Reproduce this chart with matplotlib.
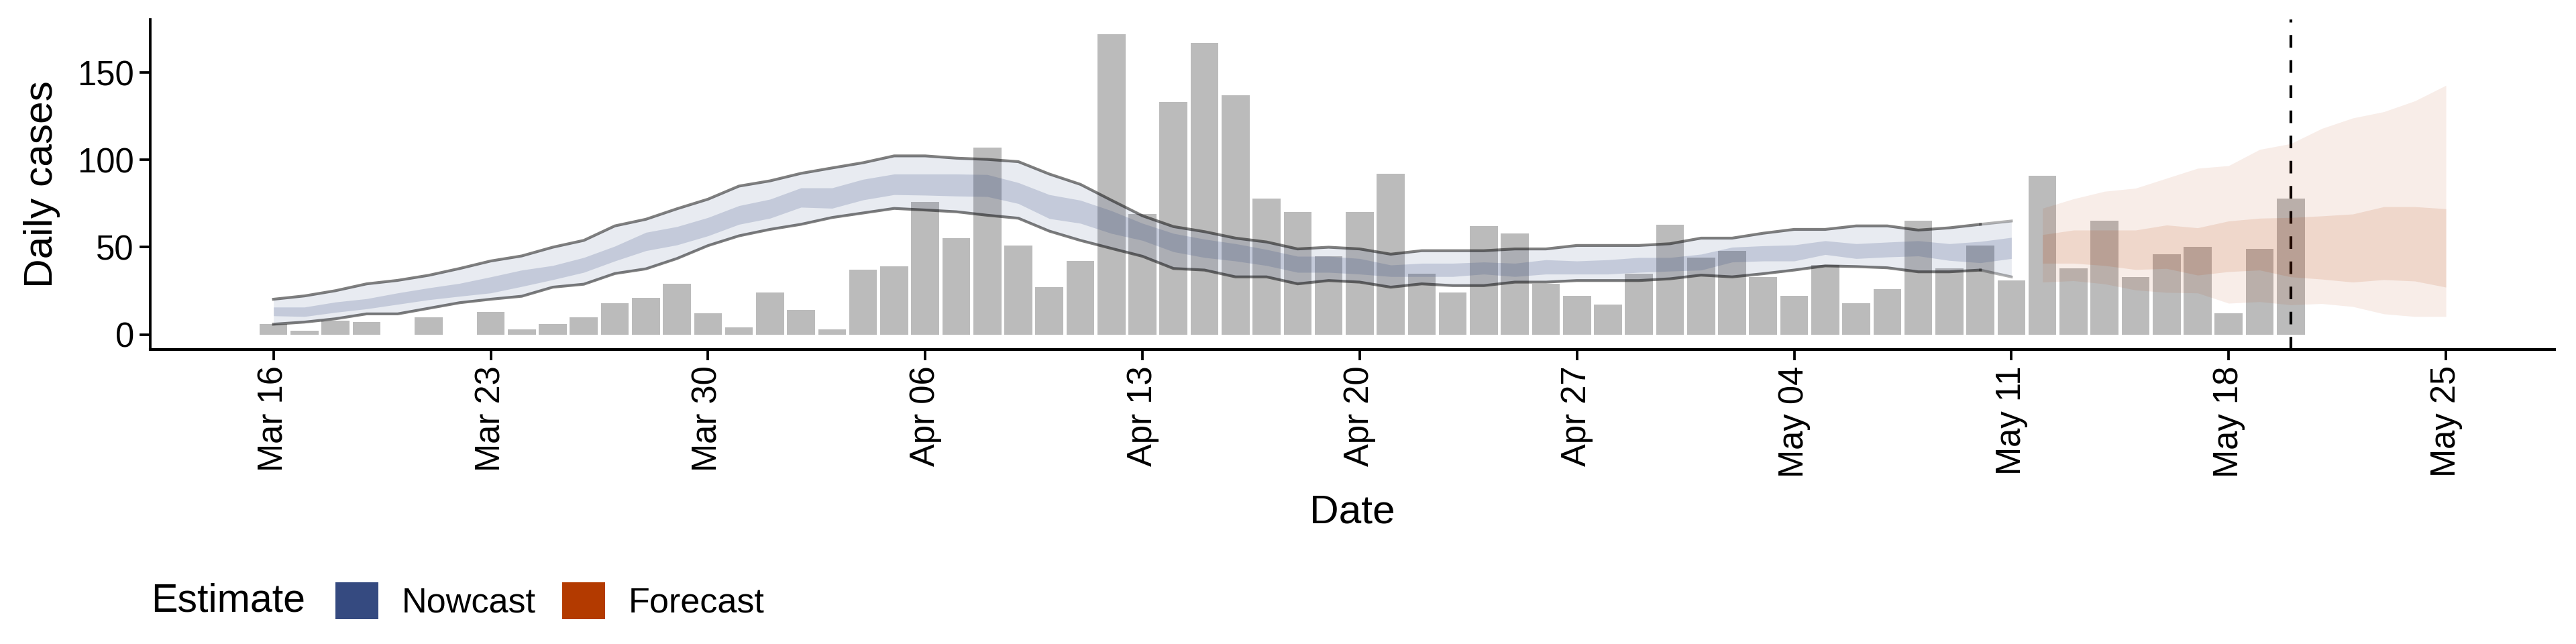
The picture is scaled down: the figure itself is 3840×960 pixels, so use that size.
import numpy as np
import pandas as pd
import matplotlib
matplotlib.use("Agg")
import matplotlib.pyplot as plt
import matplotlib.dates as mdates
from matplotlib.patches import Patch

plt.rcParams['font.family'] = ['Liberation Sans', 'DejaVu Sans']

# ---------------- data ----------------
report_start = "2020-03-16"
daily_cases = [
    6, 2, 8, 7, 0, 10, 0, 13, 3, 6, 10, 18, 21, 29, 12, 4,            # Mar 16-31
    24, 14, 3, 37, 39, 76, 55, 107, 51, 27, 42, 172, 69, 133, 167,    # Apr 1-15
    137, 78, 70, 45, 70, 92, 35, 24, 62, 58, 29, 22, 17, 35, 63,      # Apr 16-30
    44, 48, 33, 22, 40, 18, 26, 65, 38, 51, 31, 91, 38, 65, 33,       # May 1-15
    46, 50, 12, 49, 78,                                               # May 16-20
]

nowcast_start = "2020-03-16"
nowcast_upper90 = [
    20.2, 22.1, 25.1, 29, 31, 33.9, 37.8, 42.1, 45, 50, 53.9, 62.2, 66, 72, 77.5, 85,
    88, 92.3, 95.4, 98.4, 102.3, 102.3, 101, 100.3, 99, 91.9, 86, 76.9, 68, 61.8, 58.9,
    55.2, 53, 49, 50, 49, 46, 48, 48, 48, 49, 49, 51, 51, 51, 52,
    55.2, 55.2, 58, 60.2, 60.2, 62.2, 62.2, 59.8, 61.1, 63.1, 65,
]
nowcast_lower90 = [
    5.9, 7.1, 9, 11.8, 11.8, 15, 18.2, 20.2, 21.9, 27.1, 28.8, 34.9, 37.6, 43.5, 50.9, 56.5,
    60.2, 63.1, 67, 69.6, 72.2, 71.3, 70.3, 68.3, 66.6, 59.2, 53.9, 49.3, 44.8, 37.8, 36.9,
    33, 33, 29, 30.9, 30, 27.1, 29, 28, 28, 30, 30, 30.9, 30.9, 30.9, 31.9,
    34, 33, 34.8, 36.9, 39.3, 38.9, 38.2, 35.9, 35.9, 36.9, 33,
]
nowcast_upper50 = [
    15.7, 15.7, 18.6, 20.5, 23.8, 26.7, 29.3, 33, 36.9, 39.5, 44.1, 50.6, 58.5, 61.8, 67, 73.8,
    77.5, 84, 84, 88.9, 91.9, 91.9, 91.9, 91.6, 87, 80.1, 76.9, 70.9, 63.7, 57.9, 54.6,
    52, 48.7, 44.8, 44.8, 43.5, 39.8, 40.8, 40.8, 41.5, 40.8, 42.8, 42.1, 42.8, 44.1, 44.1,
    46, 50, 50.8, 51.3, 53.7, 52, 52.9, 53.7, 52, 53.3, 55.6,
]
nowcast_lower50 = [
    10.7, 10.3, 12.7, 14.7, 17.3, 19.9, 21.9, 23.8, 27.5, 31.4, 35.6, 42.1, 48, 51.3, 56.5, 63.1,
    66.6, 72.9, 72.3, 77.1, 80.1, 79.8, 79.3, 79, 75, 66.4, 63.7, 57.9, 53.9, 47.4, 44.1,
    42.1, 39.5, 35.6, 35.6, 34.6, 33.2, 33.2, 33.2, 34.6, 33.2, 34.6, 34.6, 34.6, 35.6, 36.3,
    36.9, 41.5, 42.1, 42.1, 45.8, 43.5, 44.4, 45, 42.4, 41.1, 43.5,
]

forecast_start = "2020-05-12"
forecast_upper90 = [72.3, 77.7, 82, 83.8, 89.5, 95.2, 96.7, 106, 109.3, 118, 124, 127.6, 133.8, 142.7]
forecast_lower90 = [30, 30.8, 29, 25.5, 24.1, 23.8, 17.9, 18.8, 17, 17.7, 16, 11.8, 10.3, 10.3]
forecast_upper50 = [57.2, 59.8, 59.8, 59.8, 62.7, 61.1, 65, 66.6, 67, 67.9, 69, 73.2, 73.2, 72]
forecast_lower50 = [40.8, 40.8, 39.5, 37.2, 37.8, 34, 36, 36.9, 33, 31.7, 30, 31.4, 30.6, 27.1]

estimate_date = "2020-05-20"
tick_first = "2020-03-16"
tick_last = "2020-05-25"
legend_title = "Estimate"
legend_labels = ["Nowcast", "Forecast"]
x_label = "Date"
y_label = "Daily cases"
y_ticks = [0, 50, 100, 150]

# ---------------- styling ----------------
NOW_COL = "#354A80"
FC_COL = "#B33A00"
BAR_COL = "#BBBBBB"

report_dates = pd.date_range(report_start, periods=len(daily_cases), freq="D")
now_dates = pd.date_range(nowcast_start, periods=len(nowcast_upper90), freq="D")
fc_dates = pd.date_range(forecast_start, periods=len(forecast_upper90), freq="D")

fig = plt.figure(figsize=(12.8, 3.2), dpi=300)
ax = fig.add_axes([224 / 3840, 1 - 521 / 960, (3808 - 224) / 3840, (521 - 28.6) / 960])

# bars
ax.bar(report_dates, daily_cases, width=0.9, color=BAR_COL, linewidth=0, zorder=1)

# estimate date line
ax.axvline(pd.Timestamp(estimate_date), color="black", linewidth=1.0,
           linestyle=(0, (4.5, 4.5)), zorder=2)

# nowcast ribbons
ax.fill_between(now_dates, nowcast_lower90, nowcast_upper90, color=NOW_COL,
                alpha=0.11, linewidth=0, zorder=3)
ax.fill_between(now_dates, nowcast_lower50, nowcast_upper50, color=NOW_COL,
                alpha=0.20, linewidth=0, zorder=3)
# forecast ribbons
ax.fill_between(fc_dates, forecast_lower90, forecast_upper90, color=FC_COL,
                alpha=0.09, linewidth=0, zorder=3)
ax.fill_between(fc_dates, forecast_lower50, forecast_upper50, color=FC_COL,
                alpha=0.12, linewidth=0, zorder=3)

# nowcast bound lines
for series in (nowcast_upper90, nowcast_lower90):
    ax.plot(now_dates[:-1], series[:-1], color="black", alpha=0.5,
            linewidth=1.0, solid_joinstyle="miter", zorder=4)
    ax.plot(now_dates[-2:], series[-2:], color="black", alpha=0.3,
            linewidth=1.0, zorder=4)

# axes
x0 = mdates.date2num(pd.Timestamp(tick_first))
ax.set_xlim(x0 - 3.97, x0 + 73.5)
ax.set_ylim(-8.6, 180.6)
ticks = pd.date_range(tick_first, tick_last, freq="7D")
ax.set_xticks(ticks)
ax.xaxis.set_major_formatter(mdates.DateFormatter("%b %d"))
ax.set_yticks(y_ticks)
ax.tick_params(axis="x", labelrotation=90, labelsize=12.2, length=3.8, width=0.9, pad=2)
ax.tick_params(axis="y", labelsize=12.2, length=3.8, width=0.9, pad=2)
for lab in ax.get_xticklabels():
    lab.set_horizontalalignment("center")
ax.spines["top"].set_visible(False)
ax.spines["right"].set_visible(False)
ax.spines["left"].set_linewidth(0.9)
ax.spines["bottom"].set_linewidth(1.0)
ax.set_xlabel(x_label, fontsize=14.5, labelpad=6)
ax.set_ylabel(y_label, fontsize=14.5, labelpad=6)

# legend
fig.text(225 / 3840, 1 - 896 / 960, legend_title, fontsize=14.2, va="center", ha="left")
handles = [Patch(facecolor=NOW_COL, edgecolor="none"),
           Patch(facecolor=FC_COL, edgecolor="none")]
fig.legend(handles, legend_labels, loc="center left",
           bbox_to_anchor=(500 / 3840, 1 - 896 / 960), ncol=2, frameon=False,
           fontsize=12.5, handlelength=1.23, handleheight=1.23,
           handletextpad=0.67, columnspacing=0.75, borderpad=0, borderaxespad=0)

fig.savefig("out.png", dpi=300, facecolor="white")
